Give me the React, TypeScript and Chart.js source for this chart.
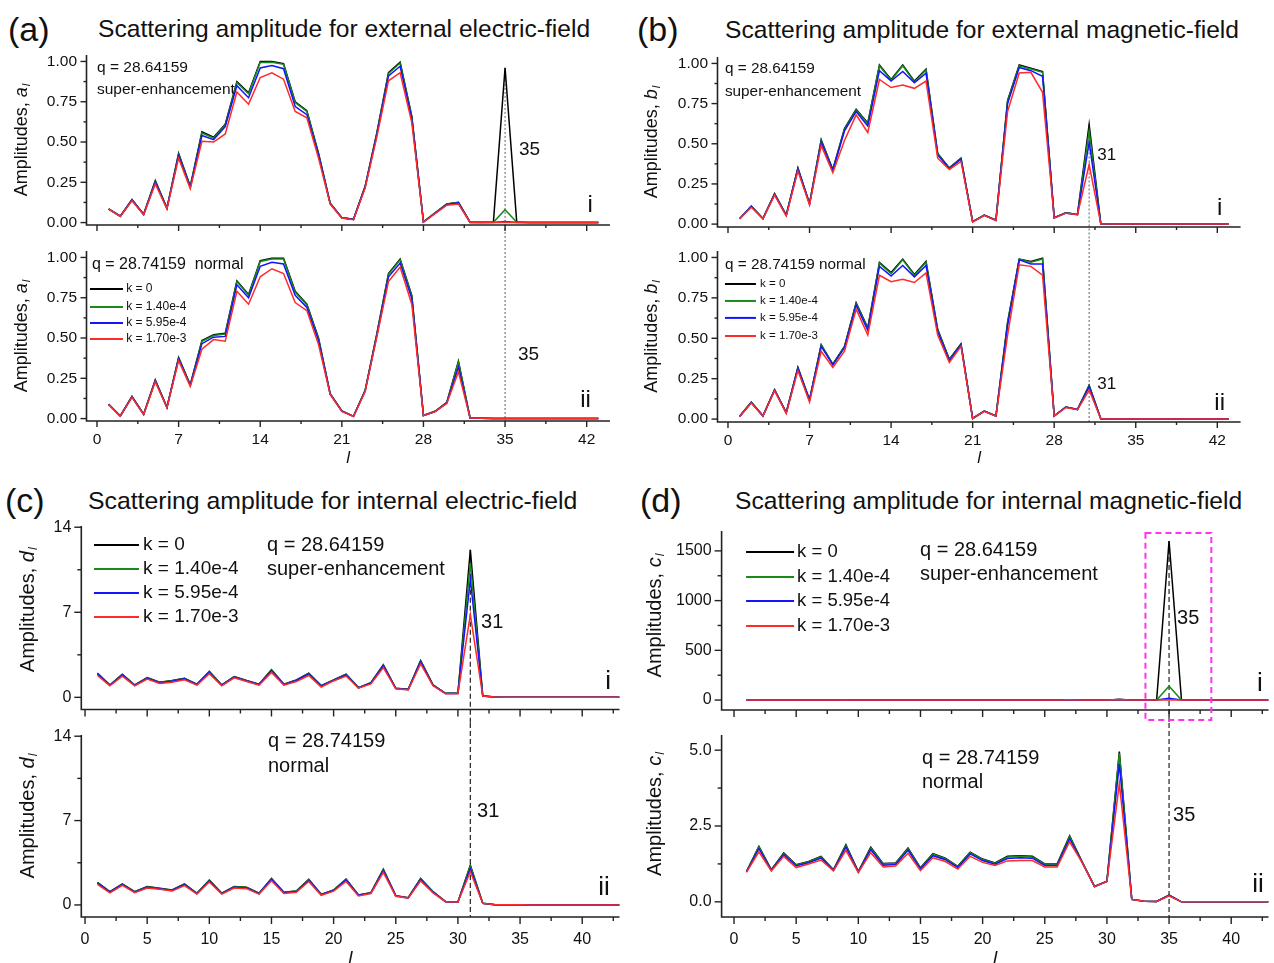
import React, { useEffect, useRef } from 'react';
import { Chart, registerables } from 'chart.js';

Chart.register(...registerables);

const FONT = "'Liberation Sans', Arial, Helvetica, sans-serif";
Chart.defaults.font.family = FONT;
Chart.defaults.color = '#111';

// Partial-wave order l
const ELL = [
  1, 2, 3, 4, 5, 6, 7, 8, 9, 10,
  11, 12, 13, 14, 15, 16, 17, 18, 19, 20,
  21, 22, 23, 24, 25, 26, 27, 28, 29, 30,
  31, 32, 33, 34, 35, 36, 37, 38, 39, 40,
  41, 42, 43,
];

const K_LABELS = ['k = 0', 'k = 1.40e-4', 'k = 5.95e-4', 'k = 1.70e-3'];
const K_COLORS = ['#000000', '#1a8a1a', '#1414ff', '#ff2a2a'];

// Tick values
const X_TICKS_EXT = [0, 7, 14, 21, 28, 35, 42];
const X_TICKS_INT = [0, 5, 10, 15, 20, 25, 30, 35, 40];
const Y_TICKS_EXT = [0, 0.25, 0.5, 0.75, 1.0];
const Y_TICKS_D = [0, 7, 14];
const Y_TICKS_C_SUP = [0, 500, 1000, 1500];
const Y_TICKS_C_NRM = [0, 2.5, 5.0];

// (a) external electric field, a_l, q = 28.64159
const A_SUP_K0 = [
  0.085, 0.040, 0.143, 0.052, 0.260, 0.090, 0.430, 0.225, 0.563, 0.530,
  0.610, 0.874, 0.805, 1.000, 1.000, 0.987, 0.750, 0.695, 0.430, 0.120,
  0.030, 0.020, 0.225, 0.556, 0.930, 0.995, 0.660, 0.005, 0.060, 0.116,
  0.126, 0.003, 0.002, 0.003, 0.960, 0.003, 0, 0, 0, 0,
  0, 0, 0,
];
const A_SUP_K1 = [
  0.085, 0.040, 0.142, 0.051, 0.258, 0.090, 0.425, 0.223, 0.555, 0.525,
  0.605, 0.868, 0.800, 0.993, 0.995, 0.982, 0.745, 0.690, 0.428, 0.120,
  0.030, 0.020, 0.224, 0.553, 0.925, 0.990, 0.655, 0.005, 0.060, 0.115,
  0.125, 0.002, 0.001, 0.002, 0.080, 0.002, 0, 0, 0, 0,
  0, 0, 0,
];
const A_SUP_K2 = [
  0.084, 0.040, 0.140, 0.050, 0.252, 0.088, 0.415, 0.218, 0.540, 0.515,
  0.595, 0.850, 0.775, 0.960, 0.975, 0.955, 0.720, 0.670, 0.420, 0.118,
  0.030, 0.020, 0.222, 0.545, 0.910, 0.970, 0.645, 0.005, 0.058, 0.112,
  0.122, 0.001, 0.001, 0.001, 0.007, 0.001, 0, 0, 0, 0,
  0, 0, 0,
];
const A_SUP_K3 = [
  0.083, 0.038, 0.135, 0.048, 0.240, 0.085, 0.400, 0.210, 0.505, 0.500,
  0.550, 0.810, 0.735, 0.900, 0.930, 0.890, 0.690, 0.650, 0.400, 0.115,
  0.028, 0.018, 0.215, 0.530, 0.880, 0.930, 0.620, 0.003, 0.055, 0.108,
  0.115, 0.001, 0.001, 0.001, 0.002, 0.001, 0, 0, 0, 0,
  0, 0, 0,
];

// (a) external electric field, a_l, q = 28.74159
const A_NRM_K0 = [
  0.089, 0.016, 0.138, 0.027, 0.240, 0.070, 0.380, 0.210, 0.485, 0.520,
  0.530, 0.855, 0.770, 0.980, 0.995, 0.995, 0.790, 0.710, 0.500, 0.155,
  0.047, 0.014, 0.175, 0.525, 0.900, 0.990, 0.765, 0.020, 0.045, 0.100,
  0.357, 0.004, 0.002, 0.001, 0.001, 0, 0, 0, 0, 0,
  0, 0, 0,
];
const A_NRM_K1 = [
  0.089, 0.016, 0.137, 0.027, 0.238, 0.070, 0.377, 0.208, 0.480, 0.515,
  0.525, 0.850, 0.765, 0.975, 0.990, 0.990, 0.785, 0.705, 0.495, 0.154,
  0.047, 0.014, 0.174, 0.522, 0.895, 0.985, 0.760, 0.020, 0.045, 0.099,
  0.350, 0.004, 0.002, 0.001, 0.001, 0, 0, 0, 0, 0,
  0, 0, 0,
];
const A_NRM_K2 = [
  0.088, 0.016, 0.135, 0.026, 0.235, 0.069, 0.370, 0.205, 0.465, 0.505,
  0.510, 0.830, 0.750, 0.945, 0.970, 0.960, 0.765, 0.690, 0.485, 0.152,
  0.046, 0.014, 0.172, 0.515, 0.880, 0.965, 0.745, 0.019, 0.044, 0.097,
  0.320, 0.004, 0.002, 0.001, 0.001, 0, 0, 0, 0, 0,
  0, 0, 0,
];
const A_NRM_K3 = [
  0.087, 0.015, 0.132, 0.025, 0.228, 0.067, 0.360, 0.200, 0.430, 0.490,
  0.480, 0.790, 0.710, 0.880, 0.930, 0.900, 0.720, 0.670, 0.460, 0.150,
  0.045, 0.013, 0.168, 0.505, 0.850, 0.940, 0.710, 0.018, 0.043, 0.094,
  0.290, 0.003, 0.002, 0.001, 0.001, 0, 0, 0, 0, 0,
  0, 0, 0,
];

// (b) external magnetic field, b_l, q = 28.64159
const B_SUP_K0 = [
  0.033, 0.112, 0.035, 0.190, 0.056, 0.350, 0.128, 0.525, 0.340, 0.595,
  0.714, 0.630, 0.990, 0.900, 0.990, 0.890, 0.965, 0.440, 0.350, 0.410,
  0.015, 0.056, 0.025, 0.770, 0.990, 0.970, 0.950, 0.040, 0.070, 0.060,
  0.620, 0.002, 0.001, 0.001, 0.001, 0, 0, 0, 0, 0,
  0, 0, 0,
];
const B_SUP_K1 = [
  0.033, 0.111, 0.035, 0.189, 0.056, 0.348, 0.127, 0.520, 0.338, 0.590,
  0.710, 0.625, 0.985, 0.895, 0.985, 0.885, 0.960, 0.437, 0.348, 0.408,
  0.015, 0.056, 0.025, 0.765, 0.985, 0.965, 0.945, 0.040, 0.070, 0.060,
  0.580, 0.002, 0.001, 0.001, 0.001, 0, 0, 0, 0, 0,
  0, 0, 0,
];
const B_SUP_K2 = [
  0.033, 0.110, 0.034, 0.187, 0.055, 0.345, 0.125, 0.510, 0.335, 0.580,
  0.700, 0.610, 0.955, 0.890, 0.950, 0.880, 0.940, 0.430, 0.345, 0.405,
  0.014, 0.055, 0.024, 0.750, 0.975, 0.955, 0.920, 0.039, 0.069, 0.059,
  0.510, 0.002, 0.001, 0.001, 0.001, 0, 0, 0, 0, 0,
  0, 0, 0,
];
const B_SUP_K3 = [
  0.033, 0.105, 0.033, 0.180, 0.050, 0.330, 0.120, 0.490, 0.320, 0.520,
  0.680, 0.570, 0.900, 0.850, 0.865, 0.845, 0.890, 0.410, 0.340, 0.390,
  0.012, 0.054, 0.022, 0.700, 0.940, 0.945, 0.820, 0.038, 0.068, 0.058,
  0.370, 0.002, 0.001, 0.001, 0.001, 0, 0, 0, 0, 0,
  0, 0, 0,
];

// (b) external magnetic field, b_l, q = 28.74159
const B_NRM_K0 = [
  0.017, 0.104, 0.020, 0.182, 0.040, 0.320, 0.120, 0.460, 0.340, 0.450,
  0.720, 0.565, 0.970, 0.907, 0.990, 0.895, 0.975, 0.555, 0.370, 0.465,
  0.004, 0.050, 0.020, 0.600, 0.990, 0.975, 0.995, 0.020, 0.075, 0.060,
  0.210, 0.002, 0.001, 0.001, 0.001, 0, 0, 0, 0, 0,
  0, 0, 0,
];
const B_NRM_K1 = [
  0.017, 0.104, 0.020, 0.181, 0.040, 0.318, 0.119, 0.458, 0.339, 0.448,
  0.715, 0.560, 0.965, 0.900, 0.985, 0.890, 0.970, 0.550, 0.368, 0.463,
  0.004, 0.050, 0.020, 0.595, 0.990, 0.970, 0.990, 0.020, 0.075, 0.060,
  0.205, 0.002, 0.001, 0.001, 0.001, 0, 0, 0, 0, 0,
  0, 0, 0,
];
const B_NRM_K2 = [
  0.016, 0.103, 0.019, 0.180, 0.039, 0.315, 0.117, 0.450, 0.335, 0.442,
  0.705, 0.550, 0.945, 0.885, 0.950, 0.880, 0.950, 0.540, 0.362, 0.460,
  0.004, 0.049, 0.019, 0.580, 0.985, 0.960, 0.960, 0.019, 0.074, 0.059,
  0.200, 0.002, 0.001, 0.001, 0.001, 0, 0, 0, 0, 0,
  0, 0, 0,
];
const B_NRM_K3 = [
  0.015, 0.100, 0.018, 0.175, 0.035, 0.300, 0.105, 0.420, 0.320, 0.420,
  0.680, 0.520, 0.890, 0.850, 0.865, 0.845, 0.905, 0.520, 0.350, 0.450,
  0.003, 0.048, 0.018, 0.520, 0.955, 0.945, 0.890, 0.018, 0.072, 0.058,
  0.180, 0.002, 0.001, 0.001, 0.001, 0, 0, 0, 0, 0,
  0, 0, 0,
];

// (c) internal electric field, d_l, q = 28.64159
const C_SUP_K0 = [
  1.99, 1.02, 1.90, 1.02, 1.63, 1.24, 1.38, 1.57, 1.08, 2.13,
  1.02, 1.71, 1.38, 1.08, 2.27, 1.08, 1.44, 1.99, 0.97, 1.44,
  1.90, 0.80, 1.21, 2.68, 0.75, 0.66, 3.04, 1.02, 0.33, 0.33,
  12.15, 0.11, 0.02, 0.01, 0.01, 0, 0, 0, 0, 0,
  0, 0, 0,
];
const C_SUP_K1 = [
  1.97, 1.01, 1.88, 1.01, 1.61, 1.23, 1.37, 1.55, 1.07, 2.11,
  1.01, 1.69, 1.37, 1.07, 2.24, 1.07, 1.42, 1.97, 0.96, 1.43,
  1.88, 0.79, 1.20, 2.65, 0.74, 0.65, 3.00, 1.01, 0.33, 0.33,
  11.05, 0.11, 0.02, 0.01, 0.01, 0, 0, 0, 0, 0,
  0, 0, 0,
];
const C_SUP_K2 = [
  1.92, 0.99, 1.84, 0.99, 1.57, 1.20, 1.33, 1.52, 1.05, 2.06,
  0.99, 1.66, 1.34, 1.05, 2.18, 1.05, 1.39, 1.92, 0.93, 1.40,
  1.84, 0.78, 1.17, 2.60, 0.73, 0.64, 2.93, 0.99, 0.32, 0.32,
  9.70, 0.11, 0.02, 0.01, 0.01, 0, 0, 0, 0, 0,
  0, 0, 0,
];
const C_SUP_K3 = [
  1.80, 0.95, 1.75, 0.95, 1.50, 1.15, 1.25, 1.45, 1.00, 1.95,
  0.95, 1.60, 1.30, 1.00, 2.05, 1.00, 1.30, 1.80, 0.85, 1.35,
  1.75, 0.75, 1.10, 2.45, 0.70, 0.60, 2.75, 0.95, 0.30, 0.30,
  6.80, 0.10, 0.02, 0.01, 0.01, 0, 0, 0, 0, 0,
  0, 0, 0,
];

// (c) internal electric field, d_l, q = 28.74159
const C_NRM_K0 = [
  1.88, 1.10, 1.74, 1.10, 1.52, 1.38, 1.24, 1.74, 0.97, 2.07,
  0.97, 1.52, 1.46, 0.97, 2.20, 1.05, 1.16, 2.13, 0.88, 1.24,
  2.15, 0.83, 1.02, 2.96, 0.77, 0.60, 2.20, 1.10, 0.28, 0.25,
  3.30, 0.14, 0.01, 0.01, 0.01, 0, 0, 0, 0, 0,
  0, 0, 0,
];
const C_NRM_K1 = [
  1.86, 1.09, 1.72, 1.09, 1.50, 1.37, 1.23, 1.72, 0.96, 2.05,
  0.96, 1.50, 1.45, 0.96, 2.17, 1.04, 1.15, 2.10, 0.87, 1.23,
  2.13, 0.82, 1.01, 2.93, 0.76, 0.59, 2.17, 1.09, 0.28, 0.25,
  3.25, 0.14, 0.01, 0.01, 0.01, 0, 0, 0, 0, 0,
  0, 0, 0,
];
const C_NRM_K2 = [
  1.81, 1.06, 1.68, 1.06, 1.47, 1.34, 1.20, 1.68, 0.94, 2.00,
  0.94, 1.46, 1.41, 0.94, 2.11, 1.01, 1.12, 2.05, 0.85, 1.20,
  2.07, 0.80, 0.99, 2.85, 0.75, 0.58, 2.11, 1.06, 0.27, 0.24,
  3.00, 0.13, 0.01, 0.01, 0.01, 0, 0, 0, 0, 0,
  0, 0, 0,
];
const C_NRM_K3 = [
  1.70, 1.00, 1.62, 1.02, 1.40, 1.30, 1.15, 1.60, 0.90, 1.90,
  0.90, 1.40, 1.35, 0.90, 2.00, 0.95, 1.05, 1.95, 0.80, 1.15,
  1.95, 0.75, 0.95, 2.70, 0.72, 0.57, 2.00, 1.00, 0.27, 0.24,
  2.75, 0.13, 0.01, 0.01, 0.01, 0, 0, 0, 0, 0,
  0, 0, 0,
];

// (d) internal magnetic field, c_l, q = 28.64159
const D_SUP_K0 = [
  1.0, 1.9, 1.1, 1.7, 1.3, 1.4, 1.5, 1.1, 1.9, 1.0,
  1.8, 1.3, 1.3, 1.8, 1.1, 1.6, 1.5, 1.2, 1.7, 1.4,
  1.3, 1.5, 1.5, 1.5, 1.3, 1.3, 2.2, 1.4, 0.6, 0.8,
  6.2, 0.1, 0.05, 0.3, 1600, 0.3, 0.02, 0, 0, 0,
  0, 0, 0,
];
const D_SUP_K1 = [
  1.0, 1.9, 1.1, 1.7, 1.3, 1.4, 1.5, 1.1, 1.9, 1.0,
  1.8, 1.3, 1.3, 1.8, 1.1, 1.6, 1.5, 1.2, 1.7, 1.4,
  1.3, 1.5, 1.5, 1.5, 1.3, 1.3, 2.2, 1.4, 0.6, 0.8,
  6.0, 0.1, 0.05, 0.3, 140, 0.3, 0.02, 0, 0, 0,
  0, 0, 0,
];
const D_SUP_K2 = [
  1.0, 1.8, 1.1, 1.6, 1.2, 1.3, 1.4, 1.0, 1.8, 1.0,
  1.7, 1.2, 1.2, 1.7, 1.1, 1.5, 1.4, 1.1, 1.6, 1.4,
  1.2, 1.4, 1.5, 1.4, 1.2, 1.2, 2.1, 1.3, 0.6, 0.8,
  5.6, 0.1, 0.05, 0.3, 18, 0.3, 0.02, 0, 0, 0,
  0, 0, 0,
];
const D_SUP_K3 = [
  1.0, 1.7, 1.0, 1.5, 1.1, 1.3, 1.4, 1.0, 1.7, 1.0,
  1.6, 1.2, 1.2, 1.6, 1.0, 1.5, 1.3, 1.1, 1.5, 1.3,
  1.2, 1.4, 1.4, 1.4, 1.2, 1.2, 2.0, 1.3, 0.5, 0.7,
  4.8, 0.1, 0.05, 0.2, 4, 0.2, 0.02, 0, 0, 0,
  0, 0, 0,
];

// (d) internal magnetic field, c_l, q = 28.74159
const D_NRM_K0 = [
  1.00, 1.83, 1.06, 1.61, 1.22, 1.33, 1.50, 1.06, 1.88, 1.00,
  1.80, 1.26, 1.28, 1.77, 1.12, 1.59, 1.44, 1.17, 1.64, 1.41,
  1.28, 1.50, 1.52, 1.50, 1.25, 1.25, 2.18, 1.33, 0.51, 0.68,
  4.95, 0.08, 0.02, 0.01, 0.22, 0, 0, 0, 0, 0,
  0, 0, 0,
];
const D_NRM_K1 = [
  1.00, 1.81, 1.05, 1.59, 1.21, 1.32, 1.48, 1.05, 1.86, 0.99,
  1.78, 1.25, 1.27, 1.75, 1.11, 1.57, 1.42, 1.16, 1.62, 1.40,
  1.27, 1.48, 1.50, 1.48, 1.24, 1.24, 2.15, 1.32, 0.51, 0.68,
  4.90, 0.08, 0.02, 0.01, 0.22, 0, 0, 0, 0, 0,
  0, 0, 0,
];
const D_NRM_K2 = [
  0.99, 1.75, 1.04, 1.55, 1.18, 1.29, 1.44, 1.04, 1.80, 0.98,
  1.72, 1.21, 1.23, 1.70, 1.08, 1.52, 1.39, 1.13, 1.58, 1.36,
  1.24, 1.43, 1.45, 1.44, 1.20, 1.20, 2.08, 1.31, 0.50, 0.67,
  4.55, 0.08, 0.02, 0.01, 0.21, 0, 0, 0, 0, 0,
  0, 0, 0,
];
const D_NRM_K3 = [
  0.97, 1.65, 1.02, 1.50, 1.13, 1.25, 1.38, 1.02, 1.70, 0.97,
  1.62, 1.15, 1.18, 1.60, 1.03, 1.45, 1.33, 1.08, 1.50, 1.30,
  1.20, 1.35, 1.36, 1.36, 1.15, 1.15, 1.98, 1.30, 0.50, 0.67,
  3.90, 0.08, 0.02, 0.01, 0.20, 0, 0, 0, 0, 0,
  0, 0, 0,
];

type Note = { text: string; x: number; y: number; size: number; align?: CanvasTextAlign };
type Legend = { x0: number; x1: number; xt: number; ys: number[]; size: number; lw: number };
type Guide = { at: number; part: 'upper' | 'lower'; color: string; dash: number[]; width: number };
type Frame = { x0: number; x1: number; y0: number; y1: number };
type Sub = {
  left: number; top: number; width: number; height: number;
  padTop: number; padRight: number; yAxisW: number; xAxisH: number;
  xMin: number; xMax: number; xStep: number; xTicks: number[];
  yMin: number; yMax: number; yStep: number; yDigits: number; yTicks: number[];
  series: number[][]; showX: boolean;
  tickFont: number; xTickPad: number; yTickPad: number;
  xTitleSize: number; xTitlePad: number;
  yVar: string; yTitleSize: number; yTitleOff: number; yTitleDy: number;
  majorLen: number; minorLen: number;
  notes: Note[]; legend?: Legend; guide?: Guide; frame?: Frame;
};

const AXIS_COLOR = '#222';
const TEXT_COLOR = '#111';
const DOTTED = { color: '#7a7a7a', dash: [2, 2], width: 1.2 };
const DASHED = { color: '#333', dash: [5, 3], width: 1.3 };

const ROW1 = {
  xMin: -0.9, xMax: 44, xStep: 7, xTicks: X_TICKS_EXT,
  yMax: 1.04, yStep: 0.25, yDigits: 2, yTicks: Y_TICKS_EXT,
  tickFont: 15.5, xTickPad: 9.7, yTickPad: 9.5, majorLen: 6, minorLen: 3,
  yTitleSize: 18, xTitleSize: 17, xTitlePad: 1.8, yTitleDy: 0,
};
const ROW2 = {
  xMax: 43, xStep: 5, xTicks: X_TICKS_INT,
  tickFont: 16, xTickPad: 13.4, yTickPad: 10, majorLen: 7, minorLen: 4,
  yTitleSize: 20, xTitleSize: 19, xTitlePad: 2.8,
};

const SUBPLOTS: Sub[] = [
  {
    ...ROW1, left: 0, top: 45, width: 640, height: 195, padTop: 10, padRight: 30,
    yAxisW: 86.5, xAxisH: 15, yMin: -0.015,
    series: [A_SUP_K0, A_SUP_K1, A_SUP_K2, A_SUP_K3], showX: false,
    yVar: 'a', yTitleOff: 64.5,
    notes: [
      { text: 'q = 28.64159', x: 0, y: 0.96, size: 15.5 },
      { text: 'super-enhancement', x: 0, y: 0.823, size: 15.5 },
      { text: '35', x: 36.2, y: 0.45, size: 19 },
      { text: 'i', x: 42.3, y: 0.109, size: 24, align: 'center' },
    ],
    guide: { at: 35, part: 'upper', ...DOTTED },
  },
  {
    ...ROW1, left: 0, top: 240, width: 640, height: 230, padTop: 11, padRight: 30,
    yAxisW: 86.5, xAxisH: 49, yMin: -0.015,
    series: [A_NRM_K0, A_NRM_K1, A_NRM_K2, A_NRM_K3], showX: true,
    yVar: 'a', yTitleOff: 64.5,
    notes: [
      { text: 'q = 28.74159  normal', x: -0.43, y: 0.953, size: 16 },
      { text: '35', x: 36.1, y: 0.395, size: 19 },
      { text: 'ii', x: 41.9, y: 0.115, size: 24, align: 'center' },
    ],
    legend: { x0: -0.6, x1: 2.23, xt: 2.5, ys: [0.804, 0.693, 0.593, 0.494], size: 12, lw: 2 },
    guide: { at: 35, part: 'lower', ...DOTTED },
  },
  {
    ...ROW1, left: 640, top: 45, width: 634, height: 195, padTop: 12, padRight: 33.4,
    yAxisW: 77.5, xAxisH: 13, yMin: -0.018,
    series: [B_SUP_K0, B_SUP_K1, B_SUP_K2, B_SUP_K3], showX: false,
    yVar: 'b', yTitleOff: 65.5,
    notes: [
      { text: 'q = 28.64159', x: -0.26, y: 0.965, size: 15.3 },
      { text: 'super-enhancement', x: -0.26, y: 0.822, size: 15.3 },
      { text: '31', x: 31.7, y: 0.43, size: 17 },
      { text: 'i', x: 42.2, y: 0.1, size: 24, align: 'center' },
    ],
    guide: { at: 31, part: 'upper', ...DOTTED },
  },
  {
    ...ROW1, left: 640, top: 240, width: 634, height: 230, padTop: 11, padRight: 33.4,
    yAxisW: 77.5, xAxisH: 48, yMin: -0.018,
    series: [B_NRM_K0, B_NRM_K1, B_NRM_K2, B_NRM_K3], showX: true,
    yVar: 'b', yTitleOff: 65.5,
    notes: [
      { text: 'q = 28.74159 normal', x: -0.26, y: 0.954, size: 15.3 },
      { text: '31', x: 31.7, y: 0.217, size: 17 },
      { text: 'ii', x: 42.2, y: 0.1, size: 24, align: 'center' },
    ],
    legend: { x0: -0.26, x1: 2.4, xt: 2.75, ys: [0.836, 0.731, 0.626, 0.514], size: 11.5, lw: 2 },
    guide: { at: 31, part: 'lower', ...DOTTED },
  },
  {
    ...ROW2, left: 0, top: 515, width: 640, height: 208, padTop: 11, padRight: 20.5,
    xMin: -0.3, yAxisW: 81.3, xAxisH: 13.5,
    yMin: -1, yMax: 14.1, yStep: 7, yDigits: 0, yTicks: Y_TICKS_D,
    series: [C_SUP_K0, C_SUP_K1, C_SUP_K2, C_SUP_K3], showX: false,
    yVar: 'd', yTitleOff: 53, yTitleDy: -8,
    notes: [
      { text: 'q = 28.64159', x: 14.64, y: 12.53, size: 20 },
      { text: 'super-enhancement', x: 14.64, y: 10.56, size: 20 },
      { text: '31', x: 31.86, y: 6.12, size: 20 },
      { text: 'i', x: 42.08, y: 1.26, size: 26, align: 'center' },
    ],
    legend: { x0: 0.72, x1: 4.34, xt: 4.67, ys: [12.53, 10.56, 8.58, 6.61], size: 19, lw: 2 },
    guide: { at: 31, part: 'upper', ...DASHED },
  },
  {
    ...ROW2, left: 0, top: 723, width: 640, height: 250, padTop: 12, padRight: 20.5,
    xMin: -0.3, yAxisW: 81.3, xAxisH: 56,
    yMin: -1, yMax: 14.1, yStep: 7, yDigits: 0, yTicks: Y_TICKS_D,
    series: [C_NRM_K0, C_NRM_K1, C_NRM_K2, C_NRM_K3], showX: true,
    yVar: 'd', yTitleOff: 53, yTitleDy: -10,
    notes: [
      { text: 'q = 28.74159', x: 14.72, y: 13.53, size: 20 },
      { text: 'normal', x: 14.72, y: 11.45, size: 20 },
      { text: '31', x: 31.54, y: 7.72, size: 20 },
      { text: 'ii', x: 41.75, y: 1.41, size: 26, align: 'center' },
    ],
    guide: { at: 31, part: 'lower', ...DASHED },
  },
  {
    ...ROW2, left: 640, top: 515, width: 634, height: 208, padTop: 16, padRight: 5.5,
    xMin: -1, yAxisW: 81.6, xAxisH: 13,
    yMin: -100, yMax: 1700, yStep: 500, yDigits: 0, yTicks: Y_TICKS_C_SUP,
    series: [D_SUP_K0, D_SUP_K1, D_SUP_K2, D_SUP_K3], showX: false,
    yVar: 'c', yTitleOff: 66.6, yTitleDy: -5,
    notes: [
      { text: 'q = 28.64159', x: 14.96, y: 1509, size: 20 },
      { text: 'super-enhancement', x: 14.96, y: 1258, size: 20 },
      { text: '35', x: 35.64, y: 825, size: 20 },
      { text: 'i', x: 42.3, y: 161, size: 26, align: 'center' },
    ],
    legend: { x0: 0.97, x1: 4.83, xt: 5.07, ys: [1489, 1237, 996, 744], size: 18.5, lw: 2 },
    guide: { at: 35, part: 'upper', ...DASHED },
    frame: { x0: 33.1, x1: 38.4, y0: 1680, y1: -201 },
  },
  {
    ...ROW2, left: 640, top: 723, width: 634, height: 250, padTop: 12, padRight: 5.5,
    xMin: -1, yAxisW: 81.6, xAxisH: 56,
    yMin: -0.5, yMax: 5.5, yStep: 2.5, yDigits: 1, yTicks: Y_TICKS_C_NRM,
    series: [D_NRM_K0, D_NRM_K1, D_NRM_K2, D_NRM_K3], showX: true,
    yVar: 'c', yTitleOff: 66.6, yTitleDy: -12,
    notes: [
      { text: 'q = 28.74159', x: 15.12, y: 4.74, size: 20 },
      { text: 'normal', x: 15.12, y: 3.92, size: 20 },
      { text: '35', x: 35.32, y: 2.86, size: 20 },
      { text: 'ii', x: 42.16, y: 0.55, size: 26, align: 'center' },
    ],
    guide: { at: 35, part: 'lower', ...DASHED },
  },
];

const HEADINGS = [
  { text: '(a)', left: 8, cy: 29, size: 34 },
  { text: 'Scattering amplitude for external electric-field', left: 98, cy: 29, size: 24.6 },
  { text: '(b)', left: 637, cy: 29, size: 34 },
  { text: 'Scattering amplitude for external magnetic-field', left: 725, cy: 30, size: 24.6 },
  { text: '(c)', left: 5, cy: 500, size: 34 },
  { text: 'Scattering amplitude for internal electric-field', left: 88, cy: 501, size: 24.8 },
  { text: '(d)', left: 640, cy: 500, size: 34 },
  { text: 'Scattering amplitude for internal magnetic-field', left: 735, cy: 501, size: 24.6 },
];

function decorPlugin(s: Sub) {
  return {
    id: 'decor',
    beforeDatasetsDraw(chart: any) {
      const g = s.guide;
      if (!g) return;
      const ctx = chart.ctx;
      const xs = chart.scales.x;
      const ys = chart.scales.y;
      const idx = ELL.indexOf(g.at);
      const x = xs.getPixelForValue(g.at);
      let y0 = 0;
      let y1 = chart.chartArea.bottom;
      if (g.part === 'upper') {
        const peak = Math.max(...s.series.map((v) => v[idx]));
        y0 = ys.getPixelForValue(peak);
        y1 = chart.height;
      }
      ctx.save();
      ctx.strokeStyle = g.color;
      ctx.lineWidth = g.width;
      ctx.setLineDash(g.dash);
      ctx.beginPath();
      ctx.moveTo(x, y0);
      ctx.lineTo(x, y1);
      ctx.stroke();
      ctx.restore();
    },
    afterDraw(chart: any) {
      const ctx = chart.ctx;
      const { left, right, top, bottom } = chart.chartArea;
      const xs = chart.scales.x;
      const ys = chart.scales.y;
      ctx.save();
      ctx.setLineDash([]);

      // axis lines
      ctx.strokeStyle = AXIS_COLOR;
      ctx.lineWidth = 1.6;
      ctx.beginPath();
      ctx.moveTo(left, top);
      ctx.lineTo(left, bottom);
      ctx.lineTo(right, bottom);
      ctx.stroke();

      // major / minor tick marks, pointing outward
      ctx.lineWidth = 1.4;
      const xh = s.xStep / 2;
      for (let k = Math.ceil(s.xMin / xh); k * xh <= s.xMax + 1e-9; k++) {
        const px = xs.getPixelForValue(k * xh);
        const len = k % 2 === 0 ? s.majorLen : s.minorLen;
        ctx.beginPath();
        ctx.moveTo(px, bottom);
        ctx.lineTo(px, bottom + len);
        ctx.stroke();
      }
      const yh = s.yStep / 2;
      for (let k = Math.ceil(s.yMin / yh); k * yh <= s.yMax + 1e-9; k++) {
        const py = ys.getPixelForValue(k * yh);
        const len = k % 2 === 0 ? s.majorLen : s.minorLen;
        ctx.beginPath();
        ctx.moveTo(left, py);
        ctx.lineTo(left - len, py);
        ctx.stroke();
      }

      // y-axis title with italic symbol and subscript l
      const cx = left - s.yTitleOff;
      const cy = (top + bottom) / 2 + s.yTitleDy;
      const sz = s.yTitleSize;
      ctx.save();
      ctx.translate(cx, cy);
      ctx.rotate(-Math.PI / 2);
      ctx.fillStyle = TEXT_COLOR;
      ctx.textBaseline = 'middle';
      ctx.textAlign = 'left';
      const f1 = `${sz}px ${FONT}`;
      const f2 = `italic ${sz}px ${FONT}`;
      const f3 = `italic ${sz * 0.62}px ${FONT}`;
      ctx.font = f1;
      const w1 = ctx.measureText('Amplitudes, ').width;
      ctx.font = f2;
      const w2 = ctx.measureText(s.yVar).width;
      ctx.font = f3;
      const w3 = ctx.measureText('l').width;
      let tx = -(w1 + w2 + w3 + 1) / 2;
      ctx.font = f1;
      ctx.fillText('Amplitudes, ', tx, 0);
      tx += w1;
      ctx.font = f2;
      ctx.fillText(s.yVar, tx, 0);
      tx += w2 + 1;
      ctx.font = f3;
      ctx.fillText('l', tx, sz * 0.28);
      ctx.restore();

      // legend built from the datasets
      if (s.legend) {
        const lg = s.legend;
        chart.data.datasets.forEach((ds: any, i: number) => {
          const py = ys.getPixelForValue(lg.ys[i]);
          ctx.strokeStyle = ds.borderColor;
          ctx.lineWidth = lg.lw;
          ctx.beginPath();
          ctx.moveTo(xs.getPixelForValue(lg.x0), py);
          ctx.lineTo(xs.getPixelForValue(lg.x1), py);
          ctx.stroke();
          ctx.fillStyle = TEXT_COLOR;
          ctx.font = `${lg.size}px ${FONT}`;
          ctx.textAlign = 'left';
          ctx.textBaseline = 'middle';
          ctx.fillText(ds.label, xs.getPixelForValue(lg.xt), py);
        });
      }

      // text annotations
      for (const n of s.notes) {
        ctx.fillStyle = TEXT_COLOR;
        ctx.font = `${n.size}px ${FONT}`;
        ctx.textAlign = n.align || 'left';
        ctx.textBaseline = 'middle';
        ctx.fillText(n.text, xs.getPixelForValue(n.x), ys.getPixelForValue(n.y));
      }

      // highlight frame around the resonance peak
      if (s.frame) {
        const f = s.frame;
        const x0 = xs.getPixelForValue(f.x0);
        const x1 = xs.getPixelForValue(f.x1);
        const y0 = ys.getPixelForValue(f.y0);
        const y1 = ys.getPixelForValue(f.y1);
        ctx.strokeStyle = '#ff33ee';
        ctx.lineWidth = 2;
        ctx.setLineDash([6, 4]);
        ctx.strokeRect(x0, y0, x1 - x0, y1 - y0);
      }
      ctx.restore();
    },
  };
}

function buildConfig(s: Sub): any {
  return {
    type: 'line',
    data: {
      datasets: s.series.map((vals, i) => ({
        label: K_LABELS[i],
        data: ELL.map((l, j) => ({ x: l, y: vals[j] })),
        borderColor: K_COLORS[i],
        backgroundColor: K_COLORS[i],
        borderWidth: 1.5,
        pointRadius: 0,
        tension: 0,
        fill: false,
        order: 3 - i,
      })),
    },
    options: {
      responsive: false,
      animation: false,
      devicePixelRatio: 1,
      events: [],
      layout: { padding: { top: s.padTop, right: s.padRight, bottom: 0, left: 0 } },
      plugins: {
        legend: { display: false },
        tooltip: { enabled: false },
        title: { display: false },
      },
      scales: {
        x: {
          type: 'linear',
          min: s.xMin,
          max: s.xMax,
          afterBuildTicks: (sc: any) => {
            sc.ticks = s.xTicks.map((v) => ({ value: v }));
          },
          afterFit: (sc: any) => {
            sc.height = s.xAxisH;
            sc.paddingLeft = 0;
            sc.paddingRight = 0;
          },
          grid: { display: false, drawTicks: false },
          border: { display: false },
          ticks: {
            display: s.showX,
            autoSkip: false,
            maxRotation: 0,
            padding: s.xTickPad,
            color: TEXT_COLOR,
            font: { size: s.tickFont },
            callback: (v: number) => String(v),
          },
          title: {
            display: s.showX,
            text: 'l',
            color: TEXT_COLOR,
            font: { size: s.xTitleSize, style: 'italic' },
            padding: { top: 0, bottom: s.xTitlePad },
          },
        },
        y: {
          type: 'linear',
          min: s.yMin,
          max: s.yMax,
          afterBuildTicks: (sc: any) => {
            sc.ticks = s.yTicks.map((v) => ({ value: v }));
          },
          afterFit: (sc: any) => {
            sc.width = s.yAxisW;
            sc.paddingTop = 0;
            sc.paddingBottom = 0;
          },
          grid: { display: false, drawTicks: false },
          border: { display: false },
          ticks: {
            autoSkip: false,
            padding: s.yTickPad,
            color: TEXT_COLOR,
            font: { size: s.tickFont },
            callback: (v: number) => Number(v).toFixed(s.yDigits),
          },
        },
      },
    },
    plugins: [decorPlugin(s)],
  };
}

function SubChart({ spec }: { spec: Sub }) {
  const ref = useRef<HTMLCanvasElement>(null);
  useEffect(() => {
    const canvas = ref.current;
    if (!canvas) return;
    const chart = new Chart(canvas, buildConfig(spec));
    return () => chart.destroy();
  }, [spec]);
  return (
    <canvas
      ref={ref}
      width={spec.width}
      height={spec.height}
      style={{
        position: 'absolute',
        left: spec.left,
        top: spec.top,
        width: spec.width,
        height: spec.height,
      }}
    />
  );
}

export default function App() {
  return (
    <div
      style={{
        position: 'absolute',
        left: 0,
        top: 0,
        width: 1274,
        height: 963,
        overflow: 'hidden',
        background: '#ffffff',
        fontFamily: FONT,
        color: TEXT_COLOR,
      }}
    >
      {HEADINGS.map((h, i) => (
        <div
          key={i}
          style={{
            position: 'absolute',
            left: h.left,
            top: h.cy - h.size / 2,
            fontSize: h.size,
            lineHeight: 1,
            whiteSpace: 'nowrap',
          }}
        >
          {h.text}
        </div>
      ))}
      {SUBPLOTS.map((s, i) => (
        <SubChart key={i} spec={s} />
      ))}
    </div>
  );
}
